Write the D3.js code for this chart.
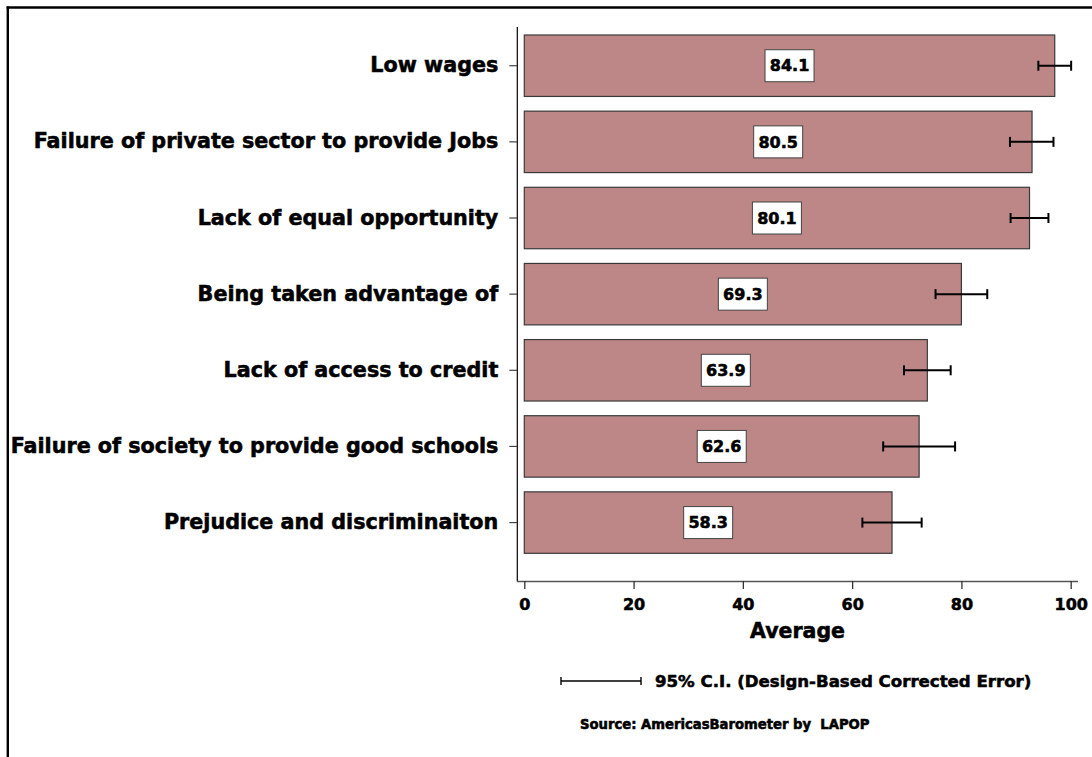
<!DOCTYPE html>
<html>
<head>
<meta charset="utf-8">
<script src="https://cdn.jsdelivr.net/npm/d3@7"></script>
<style>
  html, body { margin: 0; padding: 0; background: #fff; }
  svg { display: block; }
  text { font-family: "DejaVu Sans", sans-serif; font-weight: bold; fill: #000; stroke: #000; stroke-width: 0.55px; }
</style>
</head>
<body>
<svg id="chart" width="1092" height="757"></svg>
<script>
// ---- data ----
const categories = [
  "Low wages",
  "Failure of private sector to provide Jobs",
  "Lack of equal opportunity",
  "Being taken advantage of",
  "Lack of access to credit",
  "Failure of society to provide good schools",
  "Prejudice and discriminaiton"
];
const values = [84.1, 80.5, 80.1, 69.3, 63.9, 62.6, 58.3];
const ciLow  = [81.5, 77.0, 77.1, 65.2, 60.2, 56.9, 53.6];
const ciHigh = [86.7, 83.9, 83.1, 73.4, 67.6, 68.3, 63.0];
const xTicks = [0, 20, 40, 60, 80, 100];
// In the original the axis labelled 0..100 spans a data range of 0..86.63
const axisLabelMax = 100;
const axisDataMax = 86.63;

const svg = d3.select("#chart");

// frame (left and top edges visible)
svg.append("line").attr("x1", 7.8).attr("x2", 7.8).attr("y1", 6.5).attr("y2", 757)
  .attr("stroke", "#000").attr("stroke-width", 2.4);
svg.append("line").attr("x1", 6.6).attr("x2", 1092).attr("y1", 7.5).attr("y2", 7.5)
  .attr("stroke", "#000").attr("stroke-width", 2.4);

const x0 = 524.3, x1 = 1070.7;
const xAxisScale = d3.scaleLinear().domain([0, axisLabelMax]).range([x0, x1]);
const x = d3.scaleLinear().domain([0, axisDataMax]).range([x0, x1]);
const y = d3.scaleBand().domain(categories).range([35, 553.3]).paddingInner(0.193);

const rows = categories.map((c, i) => ({ c, v: values[i], lo: ciLow[i], hi: ciHigh[i] }));

// y axis line
const yAxisX = 517.3;
svg.append("line").attr("x1", yAxisX).attr("x2", yAxisX).attr("y1", 27).attr("y2", 581)
  .attr("stroke", "#000").attr("stroke-width", 1.2);

// y axis ticks + labels
const yAxis = d3.axisLeft(y).tickSize(8).tickPadding(11);
const gy = svg.append("g").attr("transform", `translate(${yAxisX},0)`).call(yAxis);
gy.select(".domain").remove();
gy.selectAll(".tick line").attr("stroke", "#444").attr("stroke-width", 1.2);
gy.selectAll(".tick text").attr("font-size", 20.7).attr("font-family", "DejaVu Sans")
  .attr("font-weight", "bold").attr("fill", "#000");

// x axis
const gx = svg.append("g").attr("transform", "translate(0,581)")
  .call(d3.axisBottom(xAxisScale).tickValues(xTicks).tickSize(8).tickSizeOuter(0).tickPadding(10));
gx.select(".domain").attr("d", `M${yAxisX - 0.5},0.5H1078`).attr("stroke", "#555").attr("stroke-width", 1.6);
gx.selectAll(".tick line").attr("stroke", "#333").attr("stroke-width", 1.3);
gx.selectAll(".tick text").attr("font-size", 16).attr("font-family", "DejaVu Sans")
  .attr("font-weight", "bold").attr("fill", "#000");

svg.append("text").attr("x", (x0 + x1) / 2).attr("y", 638).attr("text-anchor", "middle")
  .attr("font-size", 20.5).text("Average");

// bars
svg.append("g").selectAll("rect").data(rows).join("rect")
  .attr("x", x(0)).attr("y", d => y(d.c))
  .attr("width", d => x(d.v) - x(0)).attr("height", y.bandwidth())
  .attr("fill", "#bd8787").attr("stroke", "#3a3a3a").attr("stroke-width", 1.2);

// error bars
const eb = svg.append("g").selectAll("g").data(rows).join("g")
  .attr("transform", d => `translate(0,${y(d.c) + y.bandwidth() / 2})`);
eb.append("line").attr("x1", d => x(d.lo)).attr("x2", d => x(d.hi))
  .attr("stroke", "#000").attr("stroke-width", 2);
eb.append("line").attr("x1", d => x(d.lo)).attr("x2", d => x(d.lo)).attr("y1", -5).attr("y2", 5)
  .attr("stroke", "#000").attr("stroke-width", 2);
eb.append("line").attr("x1", d => x(d.hi)).attr("x2", d => x(d.hi)).attr("y1", -5).attr("y2", 5)
  .attr("stroke", "#000").attr("stroke-width", 2);

// value labels
const vl = svg.append("g").selectAll("g").data(rows).join("g")
  .attr("transform", d => `translate(${(x(0) + x(d.v)) / 2},${y(d.c) + y.bandwidth() / 2})`);
vl.append("rect").attr("x", -24.5).attr("y", -16).attr("width", 49).attr("height", 32)
  .attr("fill", "#fff").attr("stroke", "#444").attr("stroke-width", 1);
vl.append("text").attr("text-anchor", "middle").attr("dy", "0.36em")
  .attr("font-size", 16).text(d => d.v.toFixed(1));

// legend
const ly = 681;
svg.append("line").attr("x1", 561).attr("x2", 641).attr("y1", ly).attr("y2", ly)
  .attr("stroke", "#000").attr("stroke-width", 1.6);
svg.append("line").attr("x1", 561).attr("x2", 561).attr("y1", ly - 4).attr("y2", ly + 4)
  .attr("stroke", "#000").attr("stroke-width", 1.4);
svg.append("line").attr("x1", 641).attr("x2", 641).attr("y1", ly - 4).attr("y2", ly + 4)
  .attr("stroke", "#000").attr("stroke-width", 1.4);
svg.append("text").attr("x", 655).attr("y", ly).attr("dy", "0.36em")
  .attr("font-size", 16.6).text("95% C.I. (Design-Based Corrected Error)");

svg.append("text").attr("x", 580).attr("y", 724).attr("dy", "0.36em")
  .attr("font-size", 13.2).style("white-space", "pre").text("Source: AmericasBarometer by  LAPOP");
</script>
</body>
</html>
